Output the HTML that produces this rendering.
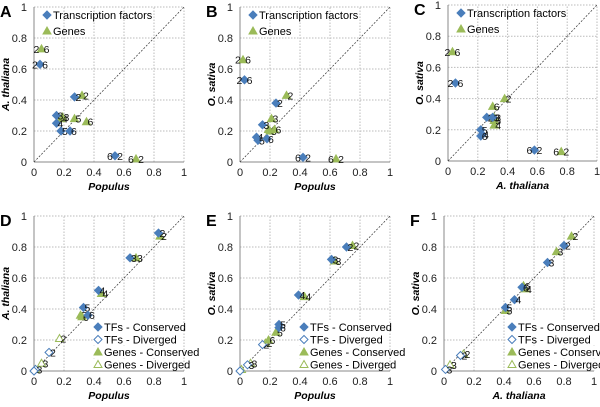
<!DOCTYPE html>
<html><head><meta charset="utf-8"><style>
body{margin:0;background:#fff}
svg{font-family:"Liberation Sans",Arial,sans-serif}
</style></head><body>
<svg id="c" width="600" height="402" viewBox="0 0 600 402" xmlns="http://www.w3.org/2000/svg"></svg>
<script>
const ticks=[0,0.2,0.4,0.6,0.8,1];
const tickLabels=["0","0.2","0.4","0.6","0.8","1"];
const panelLetters=["A","B","C","D","E","F"];
const xTitles=["Populus","Populus","A. thaliana","Populus","Populus","A. thaliana"];
const yTitles=["A. thaliana","O. sativa","O. sativa","A. thaliana","O. sativa","O. sativa"];
// top panels: [x,y,label]
const aTF=[[0.04,0.63,"2 6"],[0.27,0.42,"2"],[0.15,0.30,"3"],[0.15,0.25,"4"],[0.18,0.20,"5"],[0.24,0.20,"6"],[0.54,0.04,"6 2"]];
const aGenes=[[0.05,0.73,"2 6"],[0.32,0.43,"2"],[0.19,0.29,"3"],[0.18,0.28,"4"],[0.27,0.28,"5"],[0.35,0.26,"6"],[0.68,0.02,"6 2"]];
const bTF=[[0.03,0.53,"2 6"],[0.24,0.38,"2"],[0.15,0.24,"3"],[0.11,0.16,"4"],[0.12,0.14,"5"],[0.18,0.15,"6"],[0.42,0.03,"6 2"]];
const bGenes=[[0.02,0.66,"2 6"],[0.31,0.43,"2"],[0.21,0.28,"3"],[0.19,0.21,"4"],[0.20,0.20,"5"],[0.23,0.21,"6"],[0.64,0.02,"6 2"]];
const cTF=[[0.05,0.50,"2 6"],[0.26,0.28,"2"],[0.30,0.28,"3"],[0.22,0.20,"5"],[0.23,0.17,"4"],[0.22,0.16,"6"],[0.58,0.07,"6 2"]];
const cGenes=[[0.03,0.70,"2 6"],[0.38,0.40,"2"],[0.30,0.35,"6"],[0.31,0.28,"3"],[0.31,0.26,"5"],[0.31,0.23,"4"],[0.76,0.06,"6 2"]];
// bottom panels
const dTFc=[[0.83,0.89,"2"],[0.64,0.73,"3"],[0.43,0.52,"4"],[0.33,0.41,"5"],[0.36,0.36,"6"]];
const dGc=[[0.84,0.87,"2"],[0.68,0.73,"3"],[0.45,0.50,"4"],[0.31,0.36,"5"],[0.32,0.35,"6"]];
const dTFd=[[0.10,0.12,"2"],[0.01,0.01,"3"],[0,0,""]];
const dGd=[[0.17,0.21,"2"],[0.05,0.05,"3"],[0.01,0.01,""]];
const eTFc=[[0.71,0.80,"2"],[0.61,0.72,"3"],[0.39,0.49,"4"],[0.26,0.30,"5"],[0.26,0.28,"6"]];
const eGc=[[0.75,0.81,"2"],[0.63,0.71,"3"],[0.43,0.48,"4"],[0.24,0.25,"5"],[0.19,0.20,"6"]];
const eTFd=[[0.15,0.17,"2"],[0.05,0.04,"3"],[0,0,""]];
const eGd=[[0.17,0.18,"2"],[0.07,0.05,"3"],[0.01,0.01,""]];
const fTFc=[[0.80,0.81,"2"],[0.69,0.70,"3"],[0.47,0.46,"4"],[0.41,0.41,"5"],[0.52,0.54,"6"]];
const fGc=[[0.85,0.87,"2"],[0.75,0.77,"3"],[0.54,0.53,"4"],[0.41,0.39,"5"],[0.53,0.55,"6"]];
const fTFd=[[0.11,0.10,"2"],[0.01,0.01,"3"]];
const fGd=[[0.13,0.11,"2"],[0.04,0.04,"3"]];

const NS="http://www.w3.org/2000/svg";
const svg=document.getElementById('c');
function el(t,a,p){const e=document.createElementNS(NS,t);for(const k in a)e.setAttribute(k,a[k]);(p||svg).appendChild(e);return e;}
const BLUE="#4a7ebb",GREEN="#9bbb59";
const boxes=[{x0:34,x1:184,y0:162,y1:7},{x0:240,x1:390,y0:162,y1:7},{x0:448,x1:597,y0:161,y1:5},
{x0:34,x1:184,y0:371,y1:216},{x0:240,x1:390,y0:371,y1:216},{x0:444,x1:594,y0:371,y1:216}];
function diamond(g,x,y,fill,stroke){return el('polygon',{points:`${x},${y-4} ${x+4},${y} ${x},${y+4} ${x-4},${y}`,fill:fill,stroke:stroke,'stroke-width':1},g);}
function tri(g,x,y,fill,stroke){return el('polygon',{points:`${x},${y-4} ${x+4},${y+3} ${x-4},${y+3}`,fill:fill,stroke:stroke,'stroke-width':1},g);}
boxes.forEach((b,i)=>{
  const g=el('g',{});
  
  
  const sx=v=>b.x0+v*(b.x1-b.x0), sy=v=>b.y0-v*(b.y0-b.y1);
  ticks.forEach((t,k)=>{
    if(k>0){const gx=el('line',{x1:sx(t),x2:sx(t),y1:b.y0,y2:b.y1,stroke:'#bbb','stroke-dasharray':'1.5,1.5'},g);
    const gy=el('line',{x1:b.x0,x2:b.x1,y1:sy(t),y2:sy(t),stroke:'#bbb','stroke-dasharray':'1.5,1.5'},g);}
    const tx=el('text',{x:sx(t),y:b.y0+14,'font-size':11,'text-anchor':'middle',fill:'#222'},g);tx.textContent=tickLabels[k];
    
    const ty=el('text',{x:b.x0-7,y:sy(t)+4,'font-size':11,'text-anchor':'end',fill:'#222'},g);ty.textContent=tickLabels[k];
    
  });
  el('line',{x1:b.x0,x2:b.x0,y1:b.y0,y2:b.y1,stroke:'#888'},g);
  el('line',{x1:b.x0,x2:b.x1,y1:b.y0,y2:b.y0,stroke:'#888'},g);
  const d=el('line',{x1:sx(0),y1:sy(0),x2:sx(1),y2:sy(1),stroke:'#333','stroke-width':0.7,'stroke-dasharray':'2,1.5'},g);
  
  const L=el('text',{x:b.x0-34,y:b.y1+10,'font-size':16,'font-weight':'bold'},g);L.textContent=panelLetters[i];
  
  const xt=el('text',{x:(b.x0+b.x1)/2,y:b.y0+28,'font-size':10.5,'font-weight':'bold','font-style':'italic','text-anchor':'middle'},g);xt.textContent=xTitles[i];
  
  const cy=(b.y0+b.y1)/2;
  const yt=el('text',{x:b.x0-25,y:cy,'font-size':10.5,'font-weight':'bold','font-style':'italic','text-anchor':'middle',transform:`rotate(-90 ${b.x0-25} ${cy})`},g);yt.textContent=yTitles[i];
  
  b.sx=sx;b.sy=sy;b.g=g;
});
function plot(bi,arr,shape,fill,stroke,name){
  const b=boxes[bi];
  arr.forEach(p=>{
    const x=b.sx(p[0]),y=b.sy(p[1]);
    const m=shape==='d'?diamond(b.g,x,y,fill,stroke):tri(b.g,x,y,fill,stroke);
    
    
    if(p[2]){const t=el('text',{x:x+(p[2].length>1?0:1),y:y+4,'font-size':10.5,'text-anchor':p[2].length>1?'middle':'start',fill:'#111'},b.g);t.textContent=p[2].length>1?p[2].replace(' ','\u2009\u2009'):p[2];
    }
  });
}
plot(0,aGenes,'t',GREEN,GREEN,'gene-point');plot(0,aTF,'d',BLUE,BLUE,'tf-point');
plot(1,bGenes,'t',GREEN,GREEN,'gene-point');plot(1,bTF,'d',BLUE,BLUE,'tf-point');
plot(2,cGenes,'t',GREEN,GREEN,'gene-point');plot(2,cTF,'d',BLUE,BLUE,'tf-point');
[[3,dTFc,dGc,dTFd,dGd],[4,eTFc,eGc,eTFd,eGd],[5,fTFc,fGc,fTFd,fGd]].forEach(s=>{
  plot(s[0],s[4],'t','#fff',GREEN,'gene-diverged-point');
  plot(s[0],s[3],'d','#fff',BLUE,'tf-diverged-point');
  plot(s[0],s[2],'t',GREEN,GREEN,'gene-conserved-point');
  plot(s[0],s[1],'d',BLUE,BLUE,'tf-conserved-point');
});
// legends
[0,1,2].forEach(i=>{
  const b=boxes[i];const lx=b.x0+13,ly=b.y1+8;
  const g=el('g',{});
  diamond(g,lx,ly,BLUE,BLUE);
  let t=el('text',{x:lx+6,y:ly+4,'font-size':11},g);t.textContent='Transcription factors';
  tri(g,lx,ly+16,GREEN,GREEN);
  t=el('text',{x:lx+6,y:ly+20,'font-size':11},g);t.textContent='Genes';
});
[3,4,5].forEach(i=>{
  const b=boxes[i];const lx=b.x0+(i===5?68:64),ly=327;
  const g=el('g',{});
  const items=[['d',BLUE,BLUE,'TFs - Conserved'],['d','#fff',BLUE,'TFs - Diverged'],['t',GREEN,GREEN,'Genes - Conserved'],['t','#fff',GREEN,'Genes - Diverged']];
  items.forEach((it,k)=>{
    const y=ly+k*12.5;
    el('rect',{x:lx-5,y:y-6,width:90,height:12,fill:'#fff'},g);
    it[0]==='d'?diamond(g,lx,y,it[1],it[2]):tri(g,lx,y,it[1],it[2]);
    const t=el('text',{x:lx+6,y:y+4,'font-size':11},g);t.textContent=it[3];
    
  });
});
</script>
</body></html>
